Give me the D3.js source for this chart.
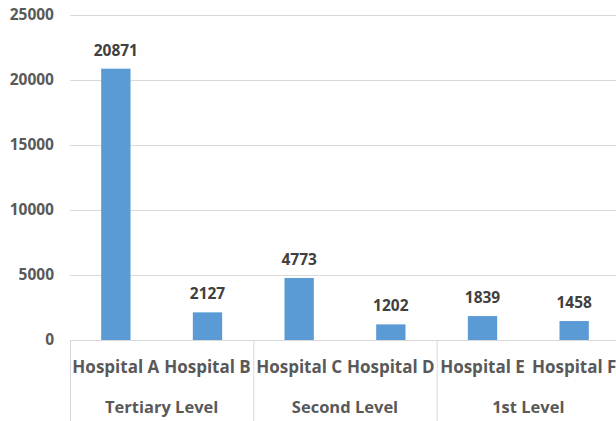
<!DOCTYPE html>
<html>
<head>
<meta charset="utf-8">
<script src="https://cdn.jsdelivr.net/npm/d3@7"></script>
<style>
  body { margin: 0; background: #fff; }
  svg text { font-family: "Open Sans", Lato, sans-serif; font-weight: bold; }
</style>
</head>
<body>
<div id="chart"></div>
<script>
const hospitals = ["Hospital A", "Hospital B", "Hospital C", "Hospital D", "Hospital E", "Hospital F"]
const levels = ["Tertiary Level", "Tertiary Level", "Second Level", "Second Level", "1st Level", "1st Level"]
const patients = [20871, 2127, 4773, 1202, 1839, 1458]
const yTickValues = [0, 5000, 10000, 15000, 20000, 25000]

const W = 616, H = 421
const margin = { top: 15, right: -4, bottom: 81, left: 70 }
const width = W - margin.left - margin.right,
    height = H - margin.top - margin.bottom

const svg = d3.select("#chart")
    .append("svg")
    .attr("width", W)
    .attr("height", H)

const g = svg.append("g")
    .attr("transform", `translate(${margin.left},${margin.top})`)

let x = d3.scaleBand()
    .domain(hospitals)
    .range([0, width])
    .paddingInner(0.68)
    .paddingOuter(0.34)

let y = d3.scaleLinear()
    .domain([0, 25000])
    .range([height, 0])

// gridlines
g.selectAll(".grid")
    .data(yTickValues.filter(d => d > 0))
    .enter().append("line")
    .attr("x1", 0)
    .attr("x2", width)
    .attr("y1", d => y(d) + 0.5)
    .attr("y2", d => y(d) + 0.5)
    .attr("stroke", "#d9d9d9")
    .attr("stroke-width", 1)

// y labels
let yAxis = g.append("g")
    .call(d3.axisLeft(y).tickValues(yTickValues).tickFormat(d3.format("d")).tickSize(0).tickPadding(16))
yAxis.select(".domain").remove()
yAxis.selectAll("text")
    .attr("font-family", "'Open Sans', sans-serif")
    .attr("font-size", "15.5px")
    .attr("fill", "#595959")

// bars
g.selectAll(".bar")
    .data(patients)
    .enter().append("rect")
    .attr("x", (d, i) => x(hospitals[i]))
    .attr("width", x.bandwidth())
    .attr("y", d => y(d))
    .attr("height", d => height - y(d))
    .attr("fill", "#5b9bd5")

// value labels
g.selectAll(".val")
    .data(patients)
    .enter().append("text")
    .attr("x", (d, i) => x(hospitals[i]) + x.bandwidth() / 2)
    .attr("y", d => y(d) - 13)
    .attr("text-anchor", "middle")
    .attr("font-size", "15.5px")
    .attr("fill", "#404040")
    .text(d => d)

// x axis line
g.append("line")
    .attr("x1", 0).attr("x2", width)
    .attr("y1", height + 0.5).attr("y2", height + 0.5)
    .attr("stroke", "#d9d9d9")

// hospital labels
const step = x.step()
g.selectAll(".cat")
    .data(hospitals)
    .enter().append("text")
    .attr("x", d => x(d) + x.bandwidth() / 2)
    .attr("y", height + 33)
    .attr("text-anchor", "middle")
    .attr("font-size", "17px")
    .attr("fill", "#595959")
    .text(d => d)

// group labels and separators
const groups = []
levels.forEach((lv, i) => {
    let last = groups[groups.length - 1]
    if (last && last.name === lv) last.end = i
    else groups.push({ name: lv, start: i, end: i })
})

const x0 = x.range()[0]
g.selectAll(".sep")
    .data(groups.map(gr => gr.start).concat([hospitals.length]))
    .enter().append("line")
    .attr("x1", d => x0 + d * step + 0.5)
    .attr("x2", d => x0 + d * step + 0.5)
    .attr("y1", height)
    .attr("y2", H - margin.top)
    .attr("stroke", "#d9d9d9")

g.selectAll(".grp")
    .data(groups)
    .enter().append("text")
    .attr("x", d => x0 + (d.start + d.end + 1) / 2 * step)
    .attr("y", height + 73)
    .attr("text-anchor", "middle")
    .attr("font-size", "16.5px")
    .attr("fill", "#595959")
    .text(d => d.name)
</script>
</body>
</html>
